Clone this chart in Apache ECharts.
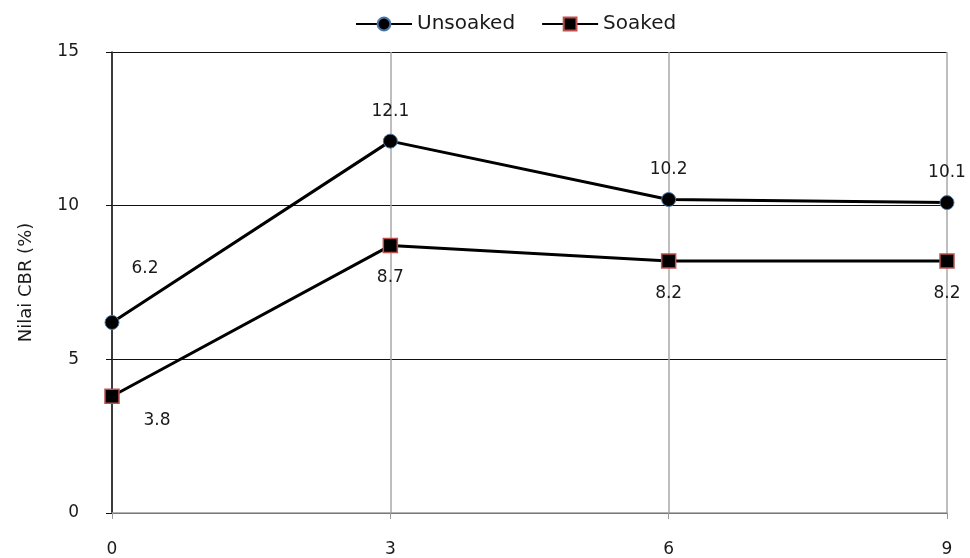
<!DOCTYPE html>
<html>
<head>
<meta charset="utf-8">
<script src="https://cdn.jsdelivr.net/npm/echarts@6/dist/echarts.min.js"></script>
<style>
  html, body {margin: 0; padding: 0; background: #fff;}
  #chart {width: 970px; height: 558px;}
</style>
</head>
<body>
<div id="chart"></div>
<script>
// x positions (curing days) and CBR values
const xValues = [0, 3, 6, 9];
const unsoaked = [6.2, 12.1, 10.2, 10.1];
const soaked = [3.8, 8.7, 8.2, 8.2];
const yTicks = [0, 5, 10, 15];

const font = 'DejaVu Sans';

function pairs(vals, labelFn) {
    return vals.map((v, i) => ({value: [xValues[i], v], label: labelFn(i)}));
}

const option = {
    animation: false,
    grid: {left: 112, right: 23, top: 52, bottom: 44},
    legend: {
        top: 9, left: 350,
        itemWidth: 56, itemHeight: 16, itemGap: 26,
        textStyle: {fontFamily: font, fontSize: 20, color: '#1a1a1a'},
        data: ['Unsoaked', 'Soaked']
    },
    xAxis: {
        type: 'value', min: 0, max: 9, interval: 3,
        axisLine: {show: true, lineStyle: {color: '#9a9a9a', width: 1.5}},
        axisTick: {show: true, length: 6, lineStyle: {color: '#9a9a9a'}},
        axisLabel: {margin: 28, fontFamily: font, fontSize: 17, color: '#1a1a1a'},
        splitLine: {show: true, lineStyle: {color: '#a8a8a8', width: 1.5}}
    },
    yAxis: {
        type: 'value', min: yTicks[0], max: yTicks[yTicks.length - 1], interval: 5,
        name: 'Nilai CBR (%)', nameLocation: 'middle', nameGap: 77,
        nameTextStyle: {fontFamily: font, fontSize: 18, color: '#1a1a1a'},
        axisLine: {show: true, lineStyle: {color: '#111', width: 1.5}},
        axisTick: {show: true, length: 6, lineStyle: {color: '#111'}},
        axisLabel: {margin: 33, fontFamily: font, fontSize: 17, color: '#1a1a1a'},
        splitLine: {show: true, lineStyle: {color: '#111', width: 1.2}}
    },
    series: [
        {
            name: 'Unsoaked', type: 'line',
            symbol: 'circle', symbolSize: 14,
            lineStyle: {color: '#000', width: 3},
            itemStyle: {color: '#000', borderColor: '#4a78a8', borderWidth: 1},
            label: {show: true, position: 'top', distance: 14, fontFamily: font, fontSize: 17, color: '#1a1a1a'},
            data: pairs(unsoaked, i => i === 0 ? {offset: [33, -24]} : {}),
            z: 3
        },
        {
            name: 'Soaked', type: 'line',
            symbol: 'rect', symbolSize: 14,
            lineStyle: {color: '#000', width: 3},
            itemStyle: {color: '#000', borderColor: '#c0504d', borderWidth: 1.5},
            label: {show: true, position: 'bottom', distance: 16, fontFamily: font, fontSize: 17, color: '#1a1a1a'},
            data: pairs(soaked, i => i === 0 ? {offset: [45, -8]} : {}),
            z: 3
        }
    ]
};

const myChart = echarts.init(document.getElementById('chart'));
myChart.setOption(option);
</script>
</body>
</html>
